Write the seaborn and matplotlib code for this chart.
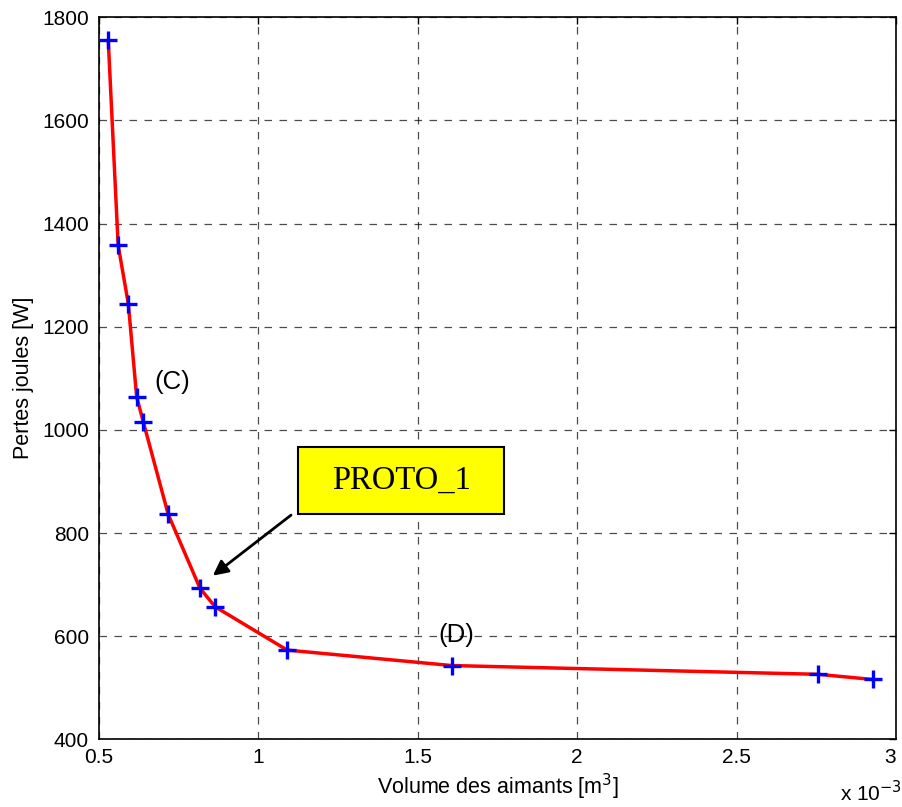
import matplotlib
matplotlib.use("Agg")
import matplotlib.pyplot as plt
import seaborn as sns
import pandas as pd
from matplotlib.patches import Rectangle

# Data (volume in units of 1e-3 m^3, losses in W)
volume = [0.530, 0.561, 0.593, 0.619, 0.640, 0.718, 0.8175, 0.865, 1.091, 1.607, 2.756, 2.927]
pertes = [1755, 1358, 1244, 1064, 1015, 836, 693, 657, 573, 543, 526, 516]
x_ticks = [0.5, 1, 1.5, 2, 2.5, 3]
x_tick_labels = ["0.5", "1", "1.5", "2", "2.5", "3"]
y_ticks = [400, 600, 800, 1000, 1200, 1400, 1600, 1800]

df = pd.DataFrame({"volume": volume, "pertes": pertes})

sns.set_style("white")
plt.rcParams["font.family"] = ["Liberation Sans", "DejaVu Sans"]
plt.rcParams["text.color"] = "black"
plt.rcParams["axes.labelcolor"] = "black"

fig = plt.figure(figsize=(9.03, 8.07), dpi=100)
ax = fig.add_axes([0.1093, 0.0839, 0.9922 - 0.1093, 0.9786 - 0.0839])

sns.lineplot(data=df, x="volume", y="pertes", ax=ax, color="red", linewidth=2.5,
             marker="+", markersize=13, markeredgewidth=2.4, markeredgecolor="blue",
             markerfacecolor="blue", sort=False, zorder=3)

ax.set_xlim(0.5, 3)
ax.set_ylim(400, 1800)
ax.set_xticks(x_ticks)
ax.set_xticklabels(x_tick_labels)
ax.set_yticks(y_ticks)
ax.get_xticklabels()[-1].set_horizontalalignment("right")

ax.grid(True, color="black", linestyle=(0, (6, 6)), linewidth=0.9, alpha=0.7)
for s in ax.spines.values():
    s.set_visible(True)
    s.set_color("black")
    s.set_linewidth(1.2)
ax.tick_params(direction="in", length=5, width=1, top=True, right=True,
               labelsize=15, colors="black")
ax.tick_params(axis="x", pad=6)
ax.tick_params(axis="y", pad=7)

ax.set_xlabel("Volume des aimants [m$^3$]", fontsize=15.5, labelpad=4)
ax.set_ylabel("Pertes joules [W]", fontsize=15.5, labelpad=6)

fig.text(0.930, 0.002, "x 10$^{-3}$", fontsize=15, ha="left", va="bottom")

ax.text(0.73, 1093, "(C)", fontsize=18.5, ha="center", va="center")
ax.text(1.62, 602, "(D)", fontsize=18.5, ha="center", va="center")

rect = Rectangle((1.126, 837), 0.645, 129, facecolor="yellow", edgecolor="black",
                 linewidth=1.5, zorder=5)
ax.add_patch(rect)
ax.text(1.449, 901, "PROTO_1", fontsize=23.5, family=["Liberation Serif"],
        ha="center", va="center", zorder=6)

ax.annotate("", xy=(0.851, 714), xytext=(1.110, 838),
            arrowprops=dict(arrowstyle="-|>,head_length=0.9,head_width=0.45",
                            color="black", linewidth=2), zorder=6)

fig.savefig("out.png", dpi=100)
